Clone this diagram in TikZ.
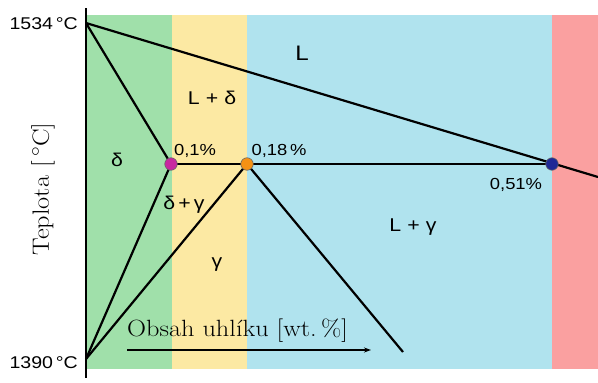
\documentclass[tikz,border=0pt]{standalone}
\usepackage{fontspec}
\newfontfamily\lsans[FakeStretch=1.15]{Liberation Sans}
\usetikzlibrary{arrows.meta}
\definecolor{cgreen}{RGB}{160,224,170}
\definecolor{cyellow}{RGB}{252,233,163}
\definecolor{cblue}{RGB}{176,227,238}
\definecolor{cred}{RGB}{250,160,160}
\definecolor{cmag}{RGB}{200,40,160}
\definecolor{corange}{RGB}{245,145,20}
\definecolor{cnavy}{RGB}{30,40,150}
\tikzset{
  phase/.style={draw=black, line width=2.2pt},
  temp/.style={font=\lsans\fontsize{17}{17}\selectfont, inner sep=0pt},
  lbl/.style={font=\lsans\fontsize{16}{16}\selectfont, inner sep=0pt},
  reg/.style={font=\lsans\fontsize{18.5}{18.5}\selectfont, inner sep=0pt},
  serif/.style={font=\fontsize{23.5}{23.5}\selectfont, inner sep=0pt},
  dot/.style={circle, draw=black!60, line width=0.6pt, minimum size=12.5pt, inner sep=0pt},
}
\begin{document}
\begin{tikzpicture}[x=1pt,y=-1pt]
\useasboundingbox (0,0) rectangle (598,383);
\fill[white] (0,0) rectangle (598,383);
% bands
\fill[cgreen]  (86,15) rectangle (172,369);
\fill[cyellow] (172,15) rectangle (247,369);
\fill[cblue]   (247,15) rectangle (552,369);
\fill[cred]    (552,15) rectangle (598,369);
% key points
\coordinate (top) at (86,23);
\coordinate (bot) at (86,359);
\coordinate (right) at (598,177);
\coordinate (gend) at (403,352);
\coordinate (axtop) at (86,8);
\coordinate (axbot) at (86,378);
\coordinate (arA) at (127,350);
\coordinate (arB) at (371,350);
% axis
\draw[line width=2.4pt] (axtop) -- (axbot);
% phase lines
\draw[phase] (top) -- (right);
\draw[phase] (top) -- (171,164);
\draw[phase] (171,164) -- (552,164);
\draw[phase] (171,164) -- (bot);
\draw[phase] (247,164) -- (bot);
\draw[phase] (247,164) -- (gend);
% points
\node[dot, fill=cmag] (p1) at (171,164) {};
\node[dot, fill=corange] (p2) at (247,164) {};
\node[dot, fill=cnavy] (p3) at (552,164) {};
% arrow
\draw[line width=1.3pt, -{Stealth[length=7pt,width=5pt]}] (arA) -- (arB);
% labels
\node[temp, anchor=east] (t1) at (78,24) {1534\,°C};
\node[temp, anchor=east] (t2) at (78,363) {1390\,°C};
\node[reg, font=\lsans\fontsize{21}{21}\selectfont] (L) at (302,53) {L};
\node[reg] (Ld) at (212,98) {L\,\,+\,\,δ};
\node[reg] (d) at (117,160) {δ};
\node[lbl] (c1) at (195,151) {0,1\%};
\node[lbl] (c2) at (279,151) {0,18\,\%};
\node[lbl] (c3) at (516,185) {0,51\%};
\node[reg] (dg) at (184,205) {δ\,+\,γ};
\node[reg] (g) at (217,265) {γ};
\node[reg] (Lg) at (413,227) {L\,\,+\,\,γ};
\node[serif, anchor=west] (xl) at (127,331) {\scalebox{1.12}[1]{Obsah uhlíku [wt.\,\%]}};
\node[serif, rotate=90] (yl) at (43,189) {\scalebox{1.12}[1]{Teplota [\,$^\circ$C]}};
\end{tikzpicture}
\end{document}
